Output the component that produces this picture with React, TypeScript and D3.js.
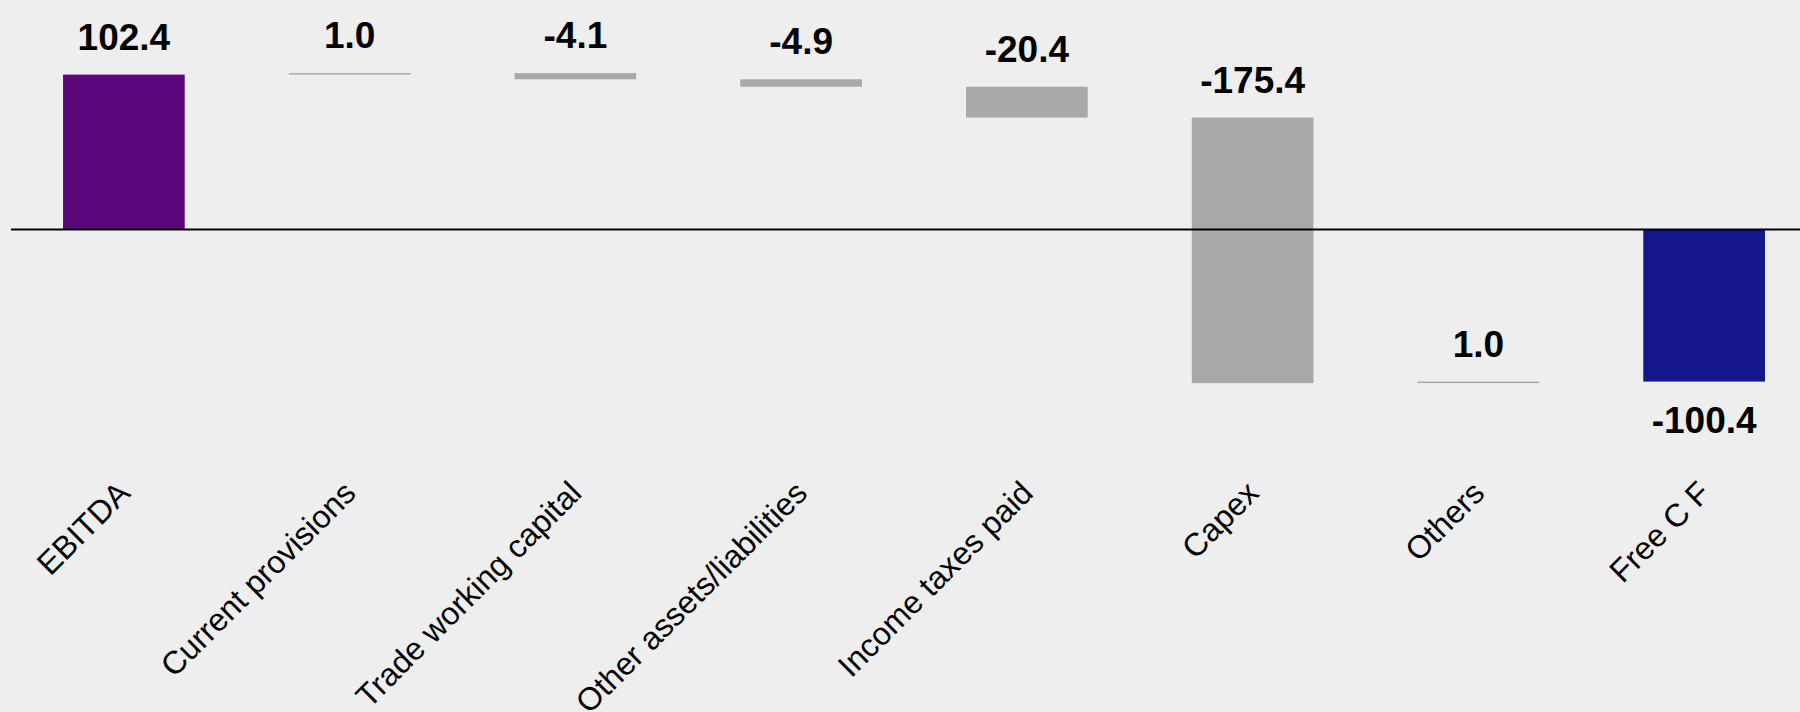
import React from "react";
import * as d3 from "d3";

const categories = [
  "EBITDA",
  "Current provisions",
  "Trade working capital",
  "Other assets/liabilities",
  "Income taxes paid",
  "Capex",
  "Others",
  "Free C F",
];
const values = [102.4, 1.0, -4.1, -4.9, -20.4, -175.4, 1.0, -100.4];
const kinds = ["total", "delta", "delta", "delta", "delta", "delta", "delta", "total"];
const valueLabels = ["102.4", "1.0", "-4.1", "-4.9", "-20.4", "-175.4", "1.0", "-100.4"];

const W = 1800;
const H = 712;
const BG = "#EEEEEE";
const GREY = "#A7A8AA";
const TOTAL_COLORS: Record<string, string> = { EBITDA: "#5C087D", "Free C F": "#14168A" };

type Seg = { cat: string; start: number; end: number; value: number; label: string; kind: string };

function buildSegments(): Seg[] {
  let running = 0;
  return categories.map((cat, i) => {
    const v = values[i];
    let start: number, end: number;
    if (kinds[i] === "total") {
      start = 0;
      end = v;
      running = v;
    } else {
      start = running;
      end = running + v;
      running = end;
    }
    return { cat, start, end, value: v, label: valueLabels[i], kind: kinds[i] };
  });
}

export default function App() {
  const segs = buildSegments();
  const allLevels = segs.flatMap((s) => [s.start, s.end]);
  const minV = d3.min(allLevels) as number;
  const maxV = d3.max(allLevels) as number;

  const x = d3
    .scaleBand<string>()
    .domain(categories)
    .range([11, 1817])
    .paddingInner(0.461)
    .paddingOuter(0.2305);

  const y = d3.scaleLinear().domain([minV, maxV]).range([383.1, 73.1]);

  const valueFont = 37;
  const gap = 25;

  return (
    <svg
      width={W}
      height={H}
      style={{ position: "absolute", left: 0, top: 0, display: "block" }}
      fontFamily="'Liberation Sans', Arial, Helvetica, sans-serif"
    >
      <rect x={0} y={0} width={W} height={H} fill={BG} />
      {segs.map((s) => {
        const top = y(Math.max(s.start, s.end));
        const bottom = y(Math.min(s.start, s.end));
        const fill = s.kind === "total" ? TOTAL_COLORS[s.cat] : GREY;
        return (
          <rect
            key={"bar-" + s.cat}
            x={x(s.cat)}
            y={top}
            width={x.bandwidth()}
            height={Math.max(bottom - top, 1)}
            fill={fill}
          />
        );
      })}
      <line x1={11} x2={W} y1={y(0)} y2={y(0)} stroke="#000" strokeWidth={2} />
      {segs.map((s) => {
        const cx = (x(s.cat) as number) + x.bandwidth() / 2;
        const top = y(Math.max(s.start, s.end));
        const bottom = y(Math.min(s.start, s.end));
        const below = s.kind === "total" && s.value < 0;
        const ty = below ? bottom + gap + valueFont * 0.72 : top - gap;
        return (
          <text
            key={"val-" + s.cat}
            x={cx}
            y={ty}
            textAnchor="middle"
            fontSize={valueFont}
            fontWeight="bold"
            fill="#000"
          >
            {s.label}
          </text>
        );
      })}
      {categories.map((c) => {
        const cx = (x(c) as number) + x.bandwidth() / 2 + 8;
        const ly = 495;
        return (
          <text
            key={"cat-" + c}
            x={cx}
            y={ly}
            textAnchor="end"
            fontSize={32}
            fill="#000"
            transform={`rotate(-45, ${cx}, ${ly})`}
          >
            {c}
          </text>
        );
      })}
    </svg>
  );
}
